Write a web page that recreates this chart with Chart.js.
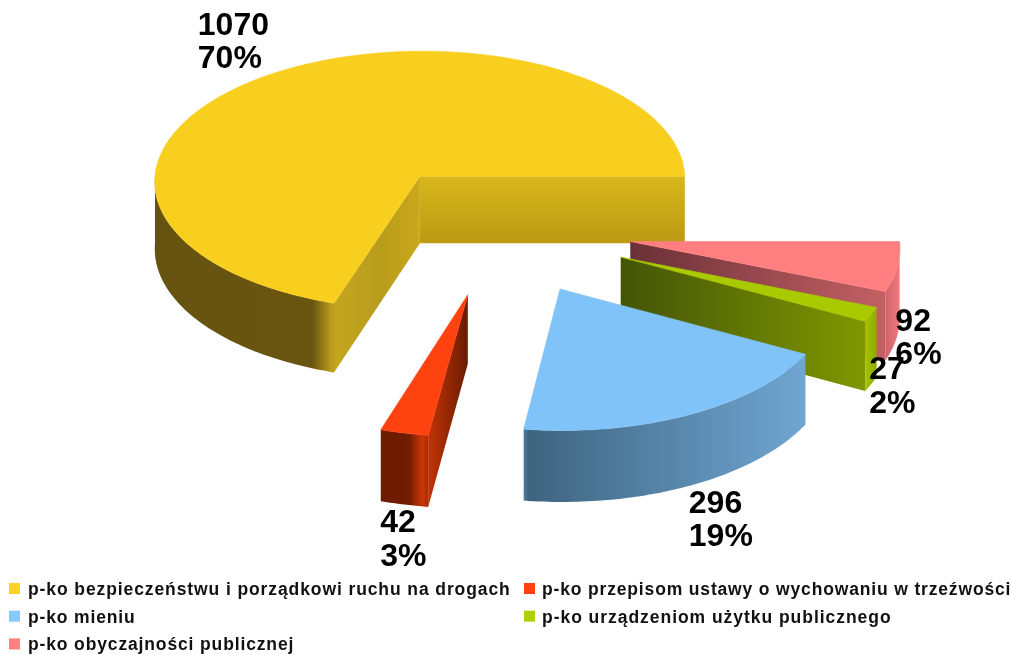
<!DOCTYPE html>
<html><head><meta charset="utf-8">
<style>html,body{margin:0;padding:0;background:#fff}#w{width:1011px;height:655px;position:relative}</style>
<script src="https://cdn.jsdelivr.net/npm/chart.js@4"></script>
</head><body><div id="w"><canvas id="c" width="1011" height="655"></canvas></div>
<script>
const categories = [
  "p-ko bezpieczeństwu i porządkowi ruchu na drogach",
  "p-ko przepisom ustawy o wychowaniu w trzeźwości",
  "p-ko mieniu",
  "p-ko urządzeniom użytku publicznego",
  "p-ko obyczajności publicznej"
];
const values = [1070, 42, 296, 27, 92];
const percents = ["70%", "3%", "19%", "2%", "6%"];
const topColors = ["#f9cf1f", "#ff4310", "#80c3f9", "#a9c900", "#ff7f80"];
const legendColors = ["#ffd320", "#ff420e", "#83caff", "#aecf00", "#ff8080"];

// paint order, back to front
const paintOrder = [0, 4, 3, 2, 1];
// wall shading per slice
const wallStyles = [
  { outer: [[0,"#665310"],[.88,"#6a5510"],[.99,"#bea01c"],[1,"#b89c1a"]],
    start: "v:#d8b71c:#bb9a14", end: [[0,"#c4a61e"],[.55,"#b89c1c"],[1,"#caa81a"]] },
  { outer: [[0,"#6c1c02"],[.6,"#701d02"],[.88,"#cc3607"],[1,"#a82b05"]],
    end: [[0,"#c23306"],[1,"#6a1c02"]] },
  { outer: [[0,"#4f7b99"],[.02,"#3e6480"],[1,"#70a6d2"]] },
  { outer: [[0,"#a3c300"],[1,"#8fa900"]], start: [[0,"#445408"],[1,"#7f9700"]] },
  { outer: [[0,"#d06368"],[1,"#f07a7e"]], start: [[0,"#693137"],[1,"#c46064"]] }
];
// label nudges from the slice's outer mid point
const labelNudge = [[-72,-40],[-24,99],[-1,98],[-2,65],[-2,64]];
const legendSpacing = [0.9, 0.84, 0.85, 0.96, 0.86];

const EXPLODE = 0.5, SQUASH = 0.494, DEPTH = 68, PERSP = 0.0336;

function project(arc, u, v, h) {
  const s = 1 / (1 - PERSP * v);
  return [arc.x + arc.outerRadius * u * s,
          arc.y + (SQUASH * arc.outerRadius * v + DEPTH * h) * s];
}
const U = a => Math.cos(a), V = a => -Math.sin(a);

function sweep(a0, a1) {
  const n = Math.max(2, Math.ceil((a1 - a0) / (Math.PI / 180)));
  const r = [];
  for (let i = 0; i <= n; i++) r.push(a0 + (a1 - a0) * i / n);
  return r;
}
function poly(ctx, pts) {
  ctx.beginPath();
  pts.forEach((p, i) => i ? ctx.lineTo(p[0], p[1]) : ctx.moveTo(p[0], p[1]));
  ctx.closePath();
}
function hGrad(ctx, x0, x1, stops) {
  const g = ctx.createLinearGradient(x0, 0, x1, 0);
  stops.forEach(s => g.addColorStop(s[0], s[1]));
  return g;
}
function radialWall(ctx, arc, ax, av, a, style) {
  const A = project(arc, ax, av, 0), B = project(arc, ax + U(a), av + V(a), 0);
  const A2 = project(arc, ax, av, 1), B2 = project(arc, ax + U(a), av + V(a), 1);
  poly(ctx, [A, B, B2, A2]);
  if (typeof style === "string") {
    const p = style.split(":");
    const g = ctx.createLinearGradient(0, A[1], 0, A2[1]);
    g.addColorStop(0, p[1]); g.addColorStop(1, p[2]);
    ctx.fillStyle = g;
  } else {
    const l = Math.min(A[0], B[0]), r = Math.max(A[0], B[0]);
    ctx.fillStyle = hGrad(ctx, l, r, style);
  }
  ctx.fill();
}

const pie3d = {
  id: "pie3d",
  beforeDatasetDraw(chart, args) {
    const ctx = chart.ctx, arcs = chart.getDatasetMeta(args.index).data;
    ctx.save();
    paintOrder.forEach(i => {
      const arc = arcs[i], a0 = arc.startAngle, a1 = arc.endAngle, mid = (a0 + a1) / 2;
      const au = EXPLODE * U(mid), av = EXPLODE * V(mid), st = wallStyles[i];
      if (Math.cos(a0) > 0 && st.start) radialWall(ctx, arc, au, av, a0, st.start);
      if (Math.cos(a1) < 0 && st.end) radialWall(ctx, arc, au, av, a1, st.end);
      // outer curved wall (front half only)
      const f0 = Math.max(a0, Math.PI), f1 = Math.min(a1, 2 * Math.PI);
      if (f1 > f0) {
        const as = sweep(f0, f1);
        const up = as.map(a => project(arc, au + U(a), av + V(a), 0));
        const lo = as.map(a => project(arc, au + U(a), av + V(a), 1)).reverse();
        poly(ctx, up.concat(lo));
        ctx.fillStyle = hGrad(ctx, Math.min(up[0][0], up[up.length-1][0]), Math.max(up[0][0], up[up.length-1][0]), st.outer);
        ctx.fill();
      }
      // top face
      const top = [project(arc, au, av, 0)].concat(sweep(a0, a1).map(a => project(arc, au + U(a), av + V(a), 0)));
      poly(ctx, top);
      ctx.fillStyle = arc.options.backgroundColor;
      ctx.fill();
      ctx.strokeStyle = arc.options.backgroundColor;
      ctx.lineWidth = 0.6;
      ctx.stroke();
    });
    // data labels
    ctx.fillStyle = "#000";
    ctx.font = "bold 32px 'Liberation Sans'";
    ctx.textAlign = "left";
    ctx.textBaseline = "alphabetic";
    arcs.forEach((arc, i) => {
      const mid = (arc.startAngle + arc.endAngle) / 2;
      const p = project(arc, (EXPLODE + 1) * U(mid), (EXPLODE + 1) * V(mid), 0);
      const x = p[0] + labelNudge[i][0], y = p[1] + labelNudge[i][1];
      ctx.fillText(String(values[i]), x, y);
      ctx.fillText(percents[i], x, y + 33.5);
    });
    // legend
    ctx.font = "bold 17.5px 'Liberation Sans'";
    categories.forEach((name, i) => {
      const col = i % 2, row = Math.floor(i / 2);
      const x = col ? 524 : 9, y = 589 + row * 27.7;
      ctx.fillStyle = legendColors[i];
      ctx.fillRect(x, y - 6, 11, 11);
      ctx.fillStyle = "#111";
      ctx.letterSpacing = legendSpacing[i] + "px";
      ctx.fillText(name, x + (col ? 18 : 19), y + 6);
    });
    ctx.restore();
    return false;
  }
};

new Chart(document.getElementById("c"), {
  type: "pie",
  data: { labels: categories, datasets: [{ data: values, backgroundColor: topColors, borderWidth: 0 }] },
  options: {
    responsive: false,
    animation: false,
    rotation: 90,
    radius: 268.5,
    layout: { padding: { left: 0, right: 15, top: 0, bottom: 197 } },
    plugins: { legend: { display: false }, tooltip: { enabled: false } }
  },
  plugins: [pie3d]
});
</script></body></html>
